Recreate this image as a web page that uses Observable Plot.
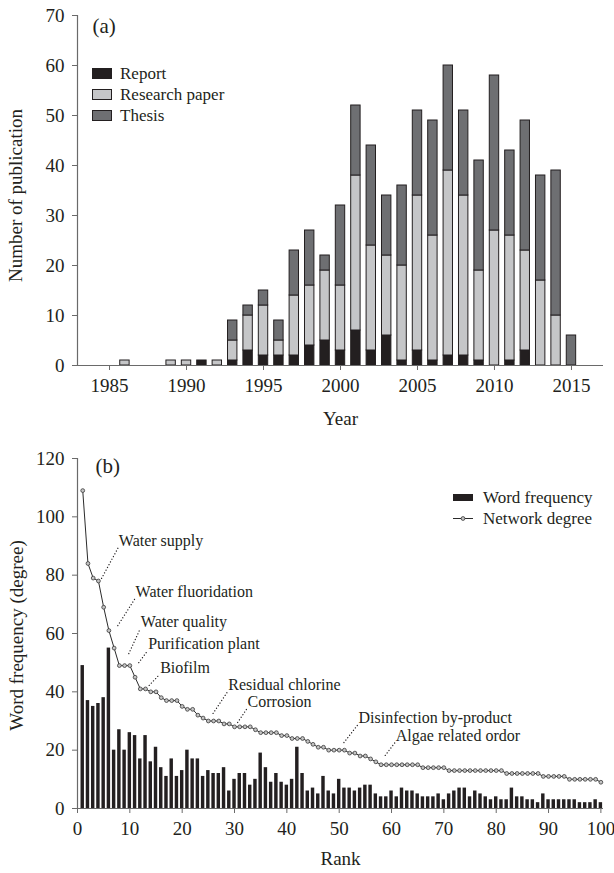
<!DOCTYPE html>
<html><head><meta charset="utf-8">
<script src="https://cdn.jsdelivr.net/npm/d3@7"></script>
<script src="https://cdn.jsdelivr.net/npm/@observablehq/plot@0.6"></script>
<style>
body{margin:0;background:#fff;}
#wrap{position:relative;width:614px;height:873px;background:#fff;}
#wrap svg{display:block;}
</style></head>
<body><div id="wrap"></div>
<script>
// ---------- Panel (a) data ----------
const years = [1986,1987,1988,1989,1990,1991,1992,1993,1994,1995,1996,1997,1998,1999,2000,2001,2002,2003,2004,2005,2006,2007,2008,2009,2010,2011,2012,2013,2014,2015];
const reportCounts   = [0,0,0,0,0,1,0,1,3,2,2,2,4,5,3,7,3,6,1,3,1,2,2,1,0,1,3,0,0,0];
const researchCounts = [1,0,0,1,1,0,1,4,7,10,3,12,12,14,13,31,21,16,19,31,25,37,32,18,27,25,20,17,10,0];
const thesisCounts   = [0,0,0,0,0,0,0,4,2,3,4,9,11,3,16,14,20,12,16,17,23,21,17,22,31,17,26,21,29,6];
const pubTypes = ["Report","Research paper","Thesis"];
const yearTicks = [1985,1990,1995,2000,2005,2010,2015];
const pubTicks = [0,10,20,30,40,50,60,70];

// ---------- Panel (b) data ----------
const wordFrequency = [49,37,35,36,38,55,20,27,20,26,25,17,25,16,21,14,11,17,11,13,
  20,17,17,11,13,12,12,14,6,10,12,12,8,10,19,14,9,12,9,8,
  10,21,12,6,7,5,11,6,5,10,7,7,6,7,8,8,5,4,4,6,
  4,7,6,6,5,4,4,4,5,3,5,6,7,7,4,6,5,4,3,4,
  3,3,7,4,4,3,3,2,5,3,3,3,3,3,3,2,2,2,3,2];
const networkDegree = [109,84,79,78,69,61,55,49,49,49,45,41,41,40,40,38,37,37,37,35,
  34,34,32,31,30,30,30,29,29,28,28,28,28,27,26,26,26,26,25,25,
  24,24,24,23,22,21,21,20,20,20,20,19,19,18,18,17,16,15,15,15,
  15,15,15,15,15,14,14,14,14,14,13,13,13,13,13,13,13,13,13,13,
  13,12,12,12,12,12,12,12,11,11,11,11,11,10,10,10,10,10,10,9];
const rankTicks = [0,10,20,30,40,50,60,70,80,90,100];
const freqTicks = [0,20,40,60,80,100,120];
const annoLabels = ["Water supply","Water fluoridation","Water quality","Purification plant","Biofilm","Residual chlorine","Corrosion","Disinfection by-product","Algae related ordor"];
const annoStartRank  = [4.6, 7.7, 9.8, 11.7, 13.7, 25.9, 30.6, 50.9, 58.8];
const annoStartValue = [78.9, 62.7, 53.1, 50.0, 42.2, 32.6, 29.5, 22.6, 18.2];
const annoEndRank    = [7.8, 11.0, 12.0, 13.4, 15.7, 28.7, 32.4, 53.6, 60.7];
const annoEndValue   = [89.5, 72.0, 61.7, 54.1, 46.0, 40.1, 34.3, 28.8, 22.7];

// ---------- styling ----------
const serif = '"Liberation Serif","Times New Roman",serif';
const ink = "#231f20";
const axisGray = "#6a6a6a";
const pubColors = ["#231f20","#c5c6c8","#6e6f72"];

// tables
const pubRows = [];
years.forEach((yr, i) => {
  let base = 0;
  [reportCounts, researchCounts, thesisCounts].forEach((arr, k) => {
    const v = arr[i];
    if (v > 0) pubRows.push({year: yr, type: pubTypes[k], y1: base, y2: base + v});
    base += v;
  });
});
const rankRows = wordFrequency.map((f, i) => ({rank: i + 1, freq: f, degree: networkDegree[i]}));
const annos = annoLabels.map((l, i) => ({label: l, sx: annoStartRank[i], sy: annoStartValue[i], ex: annoEndRank[i], ey: annoEndValue[i]}));

const wrap = document.getElementById("wrap");

const plotA = Plot.plot({
  width: 614, height: 432,
  marginLeft: 77, marginRight: 11, marginTop: 15, marginBottom: 67,
  style: {fontFamily: serif, fontSize: "19px", color: ink, background: "#fff", overflow: "visible"},
  x: {domain: [1982.92, 2017.08]},
  y: {domain: [0, 70]},
  color: {domain: pubTypes, range: pubColors},
  marks: [
    Plot.rectY(pubRows, {x1: d => d.year - 0.5, x2: d => d.year + 0.5, y1: "y1", y2: "y2", fill: "type", stroke: ink, strokeWidth: 1, insetLeft: 3, insetRight: 3}),
    Plot.ruleX([1982.92], {stroke: axisGray, strokeWidth: 1.2}),
    Plot.ruleY([0], {stroke: axisGray, strokeWidth: 1.2}),
    Plot.axisY(pubTicks, {tickSize: 5, tickPadding: 8, fontSize: 19, stroke: axisGray, fill: ink, label: null, tickFormat: d => String(d)}),
    Plot.axisX(yearTicks, {tickSize: 5, tickPadding: 8, fontSize: 19, stroke: axisGray, fill: ink, label: null, tickFormat: d => String(d)}),
    Plot.text(["Number of publication"], {text: d => d, frameAnchor: "left", textAnchor: "middle", lineAnchor: "middle", dx: -62, dy: 5, rotate: -90, fontSize: 19, fill: ink}),
    Plot.text(["Year"], {text: d => d, frameAnchor: "bottom", textAnchor: "middle", lineAnchor: "middle", dy: 53, fontSize: 19, fill: ink}),
    Plot.text(["(a)"], {text: d => d, frameAnchor: "top-left", textAnchor: "start", lineAnchor: "middle", dx: 15, dy: 11, fontSize: 21, fill: ink})
  ]
});

const plotB = Plot.plot({
  width: 614, height: 441,
  marginLeft: 77, marginRight: 11, marginTop: 26, marginBottom: 65,
  style: {fontFamily: serif, fontSize: "19px", color: ink, background: "#fff", overflow: "visible"},
  x: {domain: [0, 100.5]},
  y: {domain: [0, 120]},
  marks: [
    Plot.rectY(rankRows, {x1: d => d.rank - 0.5, x2: d => d.rank + 0.5, y1: d => 0, y2: "freq", fill: ink, insetLeft: 0.9, insetRight: 0.9}),
    Plot.line(rankRows, {x: "rank", y: "degree", stroke: "#2b2b2b", strokeWidth: 1}),
    Plot.dot(rankRows, {x: "rank", y: "degree", r: 1.9, fill: "#c4c4c4", stroke: "#3a3a3a", strokeWidth: 0.8}),
    Plot.link(annos, {x1: "sx", y1: "sy", x2: "ex", y2: "ey", stroke: ink, strokeWidth: 1.3, strokeDasharray: "0.1 3", strokeLinecap: "round"}),
    Plot.text(annos, {x: "ex", y: "ey", text: "label", textAnchor: "start", lineAnchor: "bottom", dx: 0.5, dy: -1.5, fontSize: 16, fill: ink}),
    Plot.ruleX([0], {stroke: axisGray, strokeWidth: 1.2}),
    Plot.ruleY([0], {stroke: axisGray, strokeWidth: 1.2}),
    Plot.axisY(freqTicks, {tickSize: 5, tickPadding: 8, fontSize: 19, stroke: axisGray, fill: ink, label: null, tickFormat: d => String(d)}),
    Plot.axisX(rankTicks, {tickSize: 5, tickPadding: 8, fontSize: 19, stroke: axisGray, fill: ink, label: null, tickFormat: d => String(d)}),
    Plot.text(["Word frequency (degree)"], {text: d => d, frameAnchor: "left", textAnchor: "middle", lineAnchor: "middle", dx: -61, dy: 2, rotate: -90, fontSize: 19, fill: ink}),
    Plot.text(["Rank"], {text: d => d, frameAnchor: "bottom", textAnchor: "middle", lineAnchor: "middle", dy: 50, fontSize: 19, fill: ink}),
    Plot.text(["(b)"], {text: d => d, frameAnchor: "top-left", textAnchor: "start", lineAnchor: "middle", dx: 18, dy: 8, fontSize: 21, fill: ink})
  ]
});

wrap.appendChild(plotA);
wrap.appendChild(plotB);

// legends overlay
const over = d3.select(wrap).append("svg")
  .attr("width", 614).attr("height", 873)
  .style("position", "absolute").style("left", "0px").style("top", "0px")
  .style("pointer-events", "none")
  .style("font-family", serif).style("font-size", "17px");

pubTypes.forEach((t, i) => {
  over.append("rect").attr("x", 92.5).attr("y", 68.5 + 21 * i).attr("width", 19).attr("height", 10)
    .attr("fill", pubColors[i]).attr("stroke", ink).attr("stroke-width", 1);
  over.append("text").attr("x", 120).attr("y", 79 + 21 * i).attr("fill", ink).text(t);
});

over.append("rect").attr("x", 453).attr("y", 494).attr("width", 20).attr("height", 7).attr("fill", ink);
over.append("text").attr("x", 483).attr("y", 502.5).attr("fill", ink).text("Word frequency");
over.append("line").attr("x1", 453).attr("x2", 473).attr("y1", 518.5).attr("y2", 518.5).attr("stroke", "#2b2b2b").attr("stroke-width", 1);
over.append("circle").attr("cx", 463).attr("cy", 518.5).attr("r", 1.9).attr("fill", "#c4c4c4").attr("stroke", "#3a3a3a").attr("stroke-width", 0.8);
over.append("text").attr("x", 483).attr("y", 523.5).attr("fill", ink).text("Network degree");
</script>
</body></html>
